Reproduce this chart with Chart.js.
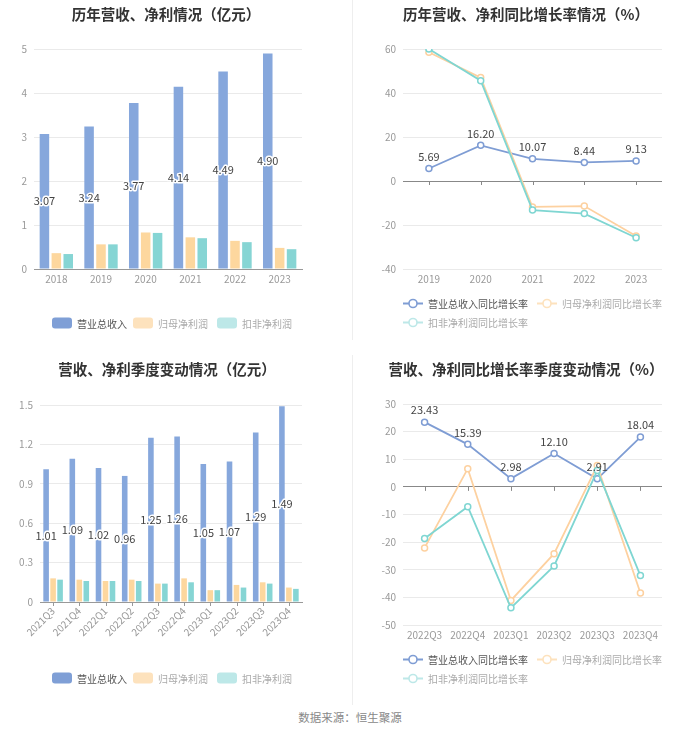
<!DOCTYPE html>
<html><head><meta charset="utf-8">
<script src="https://cdn.jsdelivr.net/npm/chart.js@4.4.1/dist/chart.umd.min.js"></script>
<style>
html,body{margin:0;padding:0;background:#fff;}
body{width:700px;height:734px;position:relative;overflow:hidden;font-family:"Noto Sans CJK SC","Noto Sans",sans-serif;}
.title{position:absolute;font-weight:bold;font-size:14.5px;color:#333;transform:translate(-50%,-50%);white-space:nowrap;}
canvas{position:absolute;}
.lg{position:absolute;display:flex;align-items:center;font-size:10px;white-space:nowrap;transform:translateY(-50%);}
.box{width:20px;height:11px;border-radius:3px;margin-right:5px;}
.vline{position:absolute;left:352px;width:1px;background:#eee;}
.src{position:absolute;left:350px;top:717px;transform:translate(-50%,-50%);font-size:11.5px;color:#888;white-space:nowrap;}
</style></head>
<body>
<div class="vline" style="top:0;height:340px"></div>
<div class="vline" style="top:355px;height:350px"></div>
<canvas id="c1" width="350" height="345" style="left:0;top:0"></canvas>
<canvas id="c2" width="350" height="345" style="left:350px;top:0"></canvas>
<canvas id="c3" width="350" height="345" style="left:0;top:350px"></canvas>
<canvas id="c4" width="350" height="345" style="left:350px;top:350px"></canvas>
<div class="src">数据来源：恒生聚源</div>
<script>
// ===== Data =====
const yearCats = ['2018','2019','2020','2021','2022','2023'];
const yearRevenue = [3.07, 3.24, 3.77, 4.14, 4.49, 4.90];
const yearNetProfit = [0.36, 0.56, 0.83, 0.72, 0.64, 0.48];
const yearDeductedProfit = [0.34, 0.56, 0.82, 0.70, 0.61, 0.45];

const growthCats = ['2019','2020','2021','2022','2023'];
const growthRevenue = [5.69, 16.20, 10.07, 8.44, 9.13];
const growthNetProfit = [58.5, 47.0, -11.8, -11.4, -25.0];
const growthDeducted = [60.0, 45.6, -13.2, -14.8, -25.8];

const quarterCats = ['2021Q3','2021Q4','2022Q1','2022Q2','2022Q3','2022Q4','2023Q1','2023Q2','2023Q3','2023Q4'];
const quarterRevenue = [1.01, 1.09, 1.02, 0.96, 1.25, 1.26, 1.05, 1.07, 1.29, 1.49];
const quarterNetProfit = [0.18, 0.17, 0.16, 0.17, 0.14, 0.18, 0.09, 0.13, 0.15, 0.11];
const quarterDeducted = [0.17, 0.16, 0.16, 0.16, 0.14, 0.15, 0.09, 0.11, 0.14, 0.10];

const qGrowthCats = ['2022Q3','2022Q4','2023Q1','2023Q2','2023Q3','2023Q4'];
const qGrowthRevenue = [23.43, 15.39, 2.98, 12.10, 2.91, 18.04];
const qGrowthNetProfit = [-22.1, 6.6, -41.1, -24.2, 7.7, -38.4];
const qGrowthDeducted = [-18.7, -7.2, -43.8, -28.6, 5.9, -32.1];

const barNames = ['营业总收入','归母净利润','扣非净利润'];
const lineNames = ['营业总收入同比增长率','归母净利润同比增长率','扣非净利润同比增长率'];
const titles = ['历年营收、净利情况（亿元）','历年营收、净利同比增长率情况（%）','营收、净利季度变动情况（亿元）','营收、净利同比增长率季度变动情况（%）'];

// ===== Styles =====
const C_BLUE='#86a7dc', C_ORANGE='#fdd79e', C_TEAL='#86d5d4';
const L_BLUE='#7f9dd4', L_ORANGE='#fdd1a0', L_TEAL='#7fd6d2';
const LG_BLUE='#7f9fd6', LG_ORANGE='#fde2bd', LG_TEAL='#bde8e8';
const FONT='"Noto Sans CJK SC","Noto Sans",sans-serif';
const CH=345;

const labelPlugin={
  id:'vlabels',
  afterDatasetsDraw(chart,args,opts){
    if(!opts||!opts.mode) return;
    const ctx=chart.ctx, meta=chart.getDatasetMeta(0), ds=chart.data.datasets[0];
    ctx.save();
    ctx.font='11px '+FONT; ctx.textAlign='center'; ctx.textBaseline='middle';
    meta.data.forEach((el,i)=>{
      const t=ds.data[i].toFixed(2);
      let x=el.x,y;
      if(opts.mode==='bar'){ y=(el.y+el.base)/2; ctx.lineWidth=3; ctx.strokeStyle='#fff'; ctx.lineJoin='round'; ctx.strokeText(t,x,y); }
      else { y=el.y-12; }
      ctx.fillStyle='#444'; ctx.fillText(t,x,y);
    });
    ctx.restore();
  }
};
const zeroTicks={
  id:'zticks',
  beforeDatasetsDraw(chart,args,opts){
    if(!opts||!opts.on) return;
    const ctx=chart.ctx, xs=chart.scales.x, ys=chart.scales.y;
    const y0=ys.getPixelForValue(0);
    ctx.save(); ctx.strokeStyle=opts.color||'#888'; ctx.lineWidth=1;
    for(let i=0;i<chart.data.labels.length;i++){
      const x=Math.round(xs.getPixelForValue(i))+0.5;
      ctx.beginPath(); ctx.moveTo(x,y0); ctx.lineTo(x,y0+4); ctx.stroke();
    }
    ctx.restore();
  }
};

function fmt(v){ return v===0?'0':String(+v.toFixed(1)); }

function makeBar(id,labels,a,b,c,yMax,step,plot,rotate){
  new Chart(document.getElementById(id),{
    type:'bar',
    data:{labels:labels,datasets:[
      {label:barNames[0],data:a,backgroundColor:C_BLUE,categoryPercentage:0.8,barPercentage:0.8},
      {label:barNames[1],data:b,backgroundColor:C_ORANGE,categoryPercentage:0.8,barPercentage:0.8},
      {label:barNames[2],data:c,backgroundColor:C_TEAL,categoryPercentage:0.8,barPercentage:0.8}
    ]},
    options:{
      responsive:false,animation:false,
      layout:{padding:{top:plot.t,right:350-plot.r,left:0,bottom:0}},
      plugins:{legend:{display:false},tooltip:{enabled:false},title:{display:false},vlabels:{mode:'bar'},zticks:{on:rotate,color:'#999'}},
      scales:{
        x:{grid:{display:false,drawTicks:false},border:{display:true,color:'#999'},
           ticks:{color:'#999',font:{size:10,family:FONT},padding:rotate?3:4,autoSkip:false,minRotation:rotate?45:0,maxRotation:rotate?45:0},
           afterFit(s){s.height=CH-plot.b;}},
        y:{min:0,max:yMax,ticks:{stepSize:step,color:'#999',font:{size:10,family:FONT},padding:7,callback:fmt},
           grid:{color:'#eaeaea',drawTicks:false},border:{display:false},
           afterFit(s){s.width=plot.l;}}
      }
    },
    plugins:[labelPlugin,zeroTicks]
  });
}

function makeLine(id,labels,a,b,c,yMin,yMax,step,plot){
  const mk=(name,data,col,order)=>({label:name,data:data,borderColor:col,backgroundColor:'#fff',pointBackgroundColor:'#fff',pointBorderColor:col,borderWidth:1.8,pointRadius:3,pointBorderWidth:1.5,tension:0,order:order});
  new Chart(document.getElementById(id),{
    type:'line',
    data:{labels:labels,datasets:[mk(lineNames[0],a,L_BLUE,3),mk(lineNames[1],b,L_ORANGE,2),mk(lineNames[2],c,L_TEAL,1)]},
    options:{
      responsive:false,animation:false,
      layout:{padding:{top:plot.t,right:350-plot.r,left:0,bottom:0}},
      plugins:{legend:{display:false},tooltip:{enabled:false},vlabels:{mode:'line'},zticks:{on:true,color:'#888'}},
      scales:{
        x:{offset:true,grid:{display:false,drawTicks:false},border:{display:false},
           ticks:{color:'#999',font:{size:10,family:FONT},padding:4},
           afterFit(s){s.height=CH-plot.b;}},
        y:{min:yMin,max:yMax,ticks:{stepSize:step,color:'#999',font:{size:10,family:FONT},padding:7,callback:fmt},
           grid:{color:(ctx)=>ctx.tick&&ctx.tick.value===0?'#888':'#eaeaea',drawTicks:false},border:{display:false},
           afterFit(s){s.width=plot.l;}}
      }
    },
    plugins:[labelPlugin,zeroTicks]
  });
}

makeBar('c1',yearCats,yearRevenue,yearNetProfit,yearDeductedProfit,5,1,{l:34,r:302,t:49,b:269},false);
makeLine('c2',growthCats,growthRevenue,growthNetProfit,growthDeducted,-40,60,20,{l:53,r:312,t:49,b:269});
makeBar('c3',quarterCats,quarterRevenue,quarterNetProfit,quarterDeducted,1.5,0.3,{l:40,r:302,t:55,b:252},true);
makeLine('c4',qGrowthCats,qGrowthRevenue,qGrowthNetProfit,qGrowthDeducted,-50,30,10,{l:53,r:312,t:54,b:275});

// ===== Titles & legends =====
const titlePos=[[166,12.5],[526,12.5],[167,367.5],[526,367.5]];
titles.forEach((t,i)=>{const d=document.createElement('div');d.className='title';d.textContent=t;d.style.left=titlePos[i][0]+'px';d.style.top=titlePos[i][1]+'px';document.body.appendChild(d);});

function addBarLegend(y){
  const xs=[52,133,217], cols=[LG_BLUE,LG_ORANGE,LG_TEAL], tc=['#555','#aaa','#aaa'];
  barNames.forEach((n,i)=>{
    const d=document.createElement('div');d.className='lg';d.style.left=xs[i]+'px';d.style.top=y+'px';
    d.innerHTML='<div class="box" style="background:'+cols[i]+'"></div><span style="color:'+tc[i]+'">'+n+'</span>';
    document.body.appendChild(d);
  });
}
function addLineLegend(y1,y2){
  const pos=[[403,y1],[537,y1],[403,y2]], cols=[L_BLUE,LG_ORANGE,LG_TEAL], tc=['#555','#aaa','#aaa'];
  lineNames.forEach((n,i)=>{
    const d=document.createElement('div');d.className='lg';d.style.left=pos[i][0]+'px';d.style.top=pos[i][1]+'px';
    d.innerHTML='<svg width="20" height="12" style="margin-right:5px"><line x1="0" y1="6" x2="20" y2="6" stroke="'+cols[i]+'" stroke-width="1.8"/><circle cx="10" cy="6" r="4" fill="#fff" stroke="'+cols[i]+'" stroke-width="1.6"/></svg><span style="color:'+tc[i]+'">'+n+'</span>';
    document.body.appendChild(d);
  });
}
addBarLegend(323);
addBarLegend(678);
addLineLegend(303,322);
addLineLegend(659,678);
</script>
</body></html>
